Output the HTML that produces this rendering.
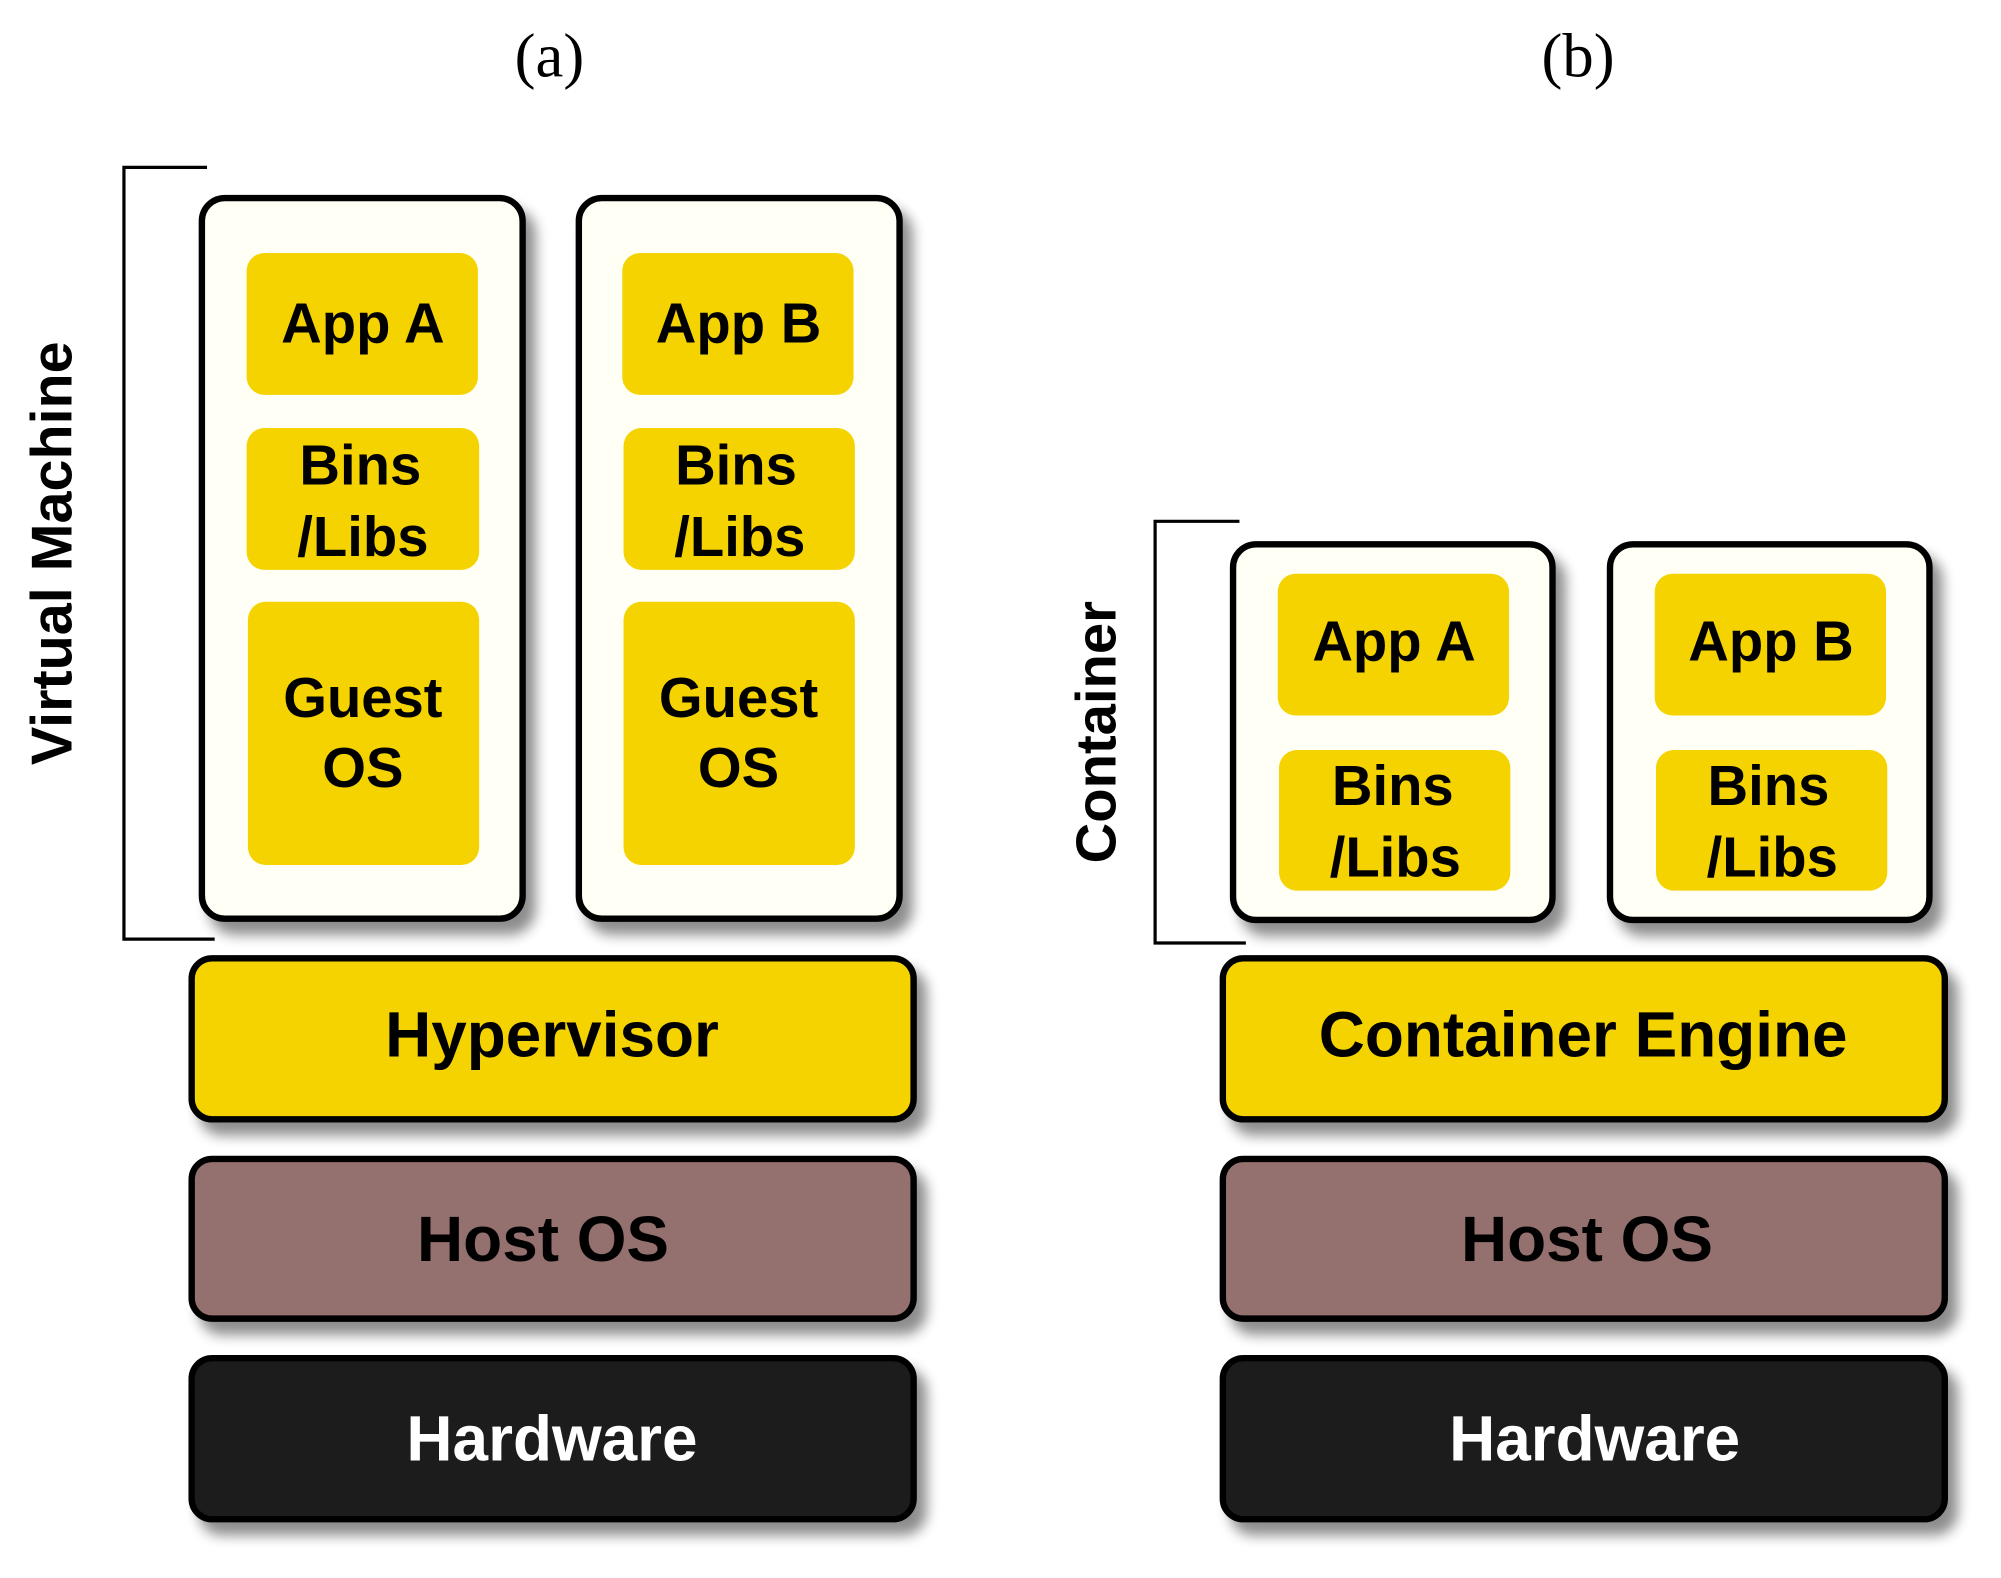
<!DOCTYPE html>
<html><head><meta charset="utf-8"><style>
html,body{margin:0;padding:0;background:#fff;}
svg{display:block;}
.t{font-family:"Liberation Sans",Arial,sans-serif;font-weight:bold;text-anchor:middle;}
.s{font-family:"Liberation Serif",serif;text-anchor:middle;}
</style></head><body>
<svg width="2001" height="1578" viewBox="0 0 1566 1235" preserveAspectRatio="none" xmlns="http://www.w3.org/2000/svg">
<defs>
<filter id="sh" x="-10%" y="-10%" width="130%" height="140%">
<feGaussianBlur in="SourceAlpha" stdDeviation="5"/>
<feOffset dx="8" dy="10"/>
<feComponentTransfer><feFuncA type="linear" slope="0.45"/></feComponentTransfer>
<feMerge><feMergeNode/><feMergeNode in="SourceGraphic"/></feMerge>
</filter>
</defs>
<text class="s" x="430" y="60" font-size="49">(a)</text>
<text class="s" x="1235" y="60" font-size="49">(b)</text>

<path d="M162 131 H97 V735 H168" fill="none" stroke="#000" stroke-width="2.5"/>
<text class="t" font-size="45" transform="translate(56,433) rotate(-90)">Virtual Machine</text>

<g filter="url(#sh)">
<rect x="158" y="155" width="251" height="564" rx="18" fill="#FFFFF5" stroke="#000" stroke-width="5"/>
<rect x="453" y="155" width="251" height="564" rx="18" fill="#FFFFF5" stroke="#000" stroke-width="5"/>
</g>
<g fill="#F5D300">
<rect x="193" y="198" width="181" height="111" rx="14"/>
<rect x="193" y="335" width="182" height="111" rx="14"/>
<rect x="194" y="471" width="181" height="206" rx="14"/>
<rect x="487" y="198" width="181" height="111" rx="14"/>
<rect x="488" y="335" width="181" height="111" rx="14"/>
<rect x="488" y="471" width="181" height="206" rx="14"/>
</g>
<g class="t" font-size="44">
<text x="284" y="268">App A</text>
<text x="282" y="379">Bins</text>
<text x="284" y="435">/Libs</text>
<text x="284" y="561">Guest</text>
<text x="284" y="616">OS</text>
<text x="578" y="268">App B</text>
<text x="576" y="379">Bins</text>
<text x="579" y="435">/Libs</text>
<text x="578" y="561">Guest</text>
<text x="578" y="616">OS</text>
</g>

<path d="M970 408 H904 V738 H975" fill="none" stroke="#000" stroke-width="2.5"/>
<text class="t" font-size="44" transform="translate(873,573) rotate(-90)">Container</text>

<g filter="url(#sh)">
<rect x="965" y="426" width="250" height="294" rx="18" fill="#FFFFF5" stroke="#000" stroke-width="5"/>
<rect x="1260" y="426" width="250" height="294" rx="18" fill="#FFFFF5" stroke="#000" stroke-width="5"/>
</g>
<g fill="#F5D300">
<rect x="1000" y="449" width="181" height="111" rx="14"/>
<rect x="1001" y="587" width="181" height="110" rx="14"/>
<rect x="1295" y="449" width="181" height="111" rx="14"/>
<rect x="1296" y="587" width="181" height="110" rx="14"/>
</g>
<g class="t" font-size="44">
<text x="1091" y="517">App A</text>
<text x="1090" y="630">Bins</text>
<text x="1092" y="686">/Libs</text>
<text x="1386" y="517">App B</text>
<text x="1384" y="630">Bins</text>
<text x="1387" y="686">/Libs</text>
</g>

<g filter="url(#sh)" stroke="#000" stroke-width="5">
<rect x="150" y="750" width="565" height="126" rx="16" fill="#F5D300"/>
<rect x="150" y="907" width="565" height="125" rx="16" fill="#94706E"/>
<rect x="150" y="1063" width="565" height="126" rx="16" fill="#1E1E1E"/>
<rect x="957" y="750" width="565" height="126" rx="16" fill="#F5D300"/>
<rect x="957" y="907" width="565" height="125" rx="16" fill="#94706E"/>
<rect x="957" y="1063" width="565" height="126" rx="16" fill="#1E1E1E"/>
</g>
<g class="t" font-size="50">
<text x="432" y="827">Hypervisor</text>
<text x="425" y="987">Host OS</text>
<text x="432" y="1143" fill="#fff">Hardware</text>
<text x="1239" y="827">Container Engine</text>
<text x="1242" y="987">Host OS</text>
<text x="1248" y="1143" fill="#fff">Hardware</text>
</g>
</svg>
</body></html>
